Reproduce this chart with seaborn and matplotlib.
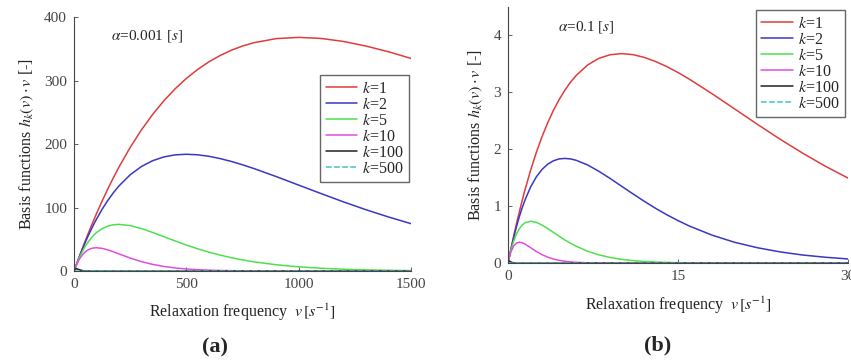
import numpy as np
import pandas as pd
import matplotlib
matplotlib.use("Agg")
import matplotlib.pyplot as plt
import seaborn as sns

# panel (a): alpha = 0.001 s
V_A = [0, 2, 5, 10, 15, 20, 30, 40, 50, 60, 75, 90, 100, 125, 150, 175, 200,
       250, 300, 350, 400, 450, 500, 550, 600, 650, 700, 750, 800, 900, 1000,
       1100, 1200, 1300, 1400, 1500]
A_K1 = [0, 2.00, 4.98, 9.90, 14.78, 19.60, 29.11, 38.43, 47.56, 56.51, 69.58,
        82.26, 90.48, 110.31, 129.11, 146.91, 163.75, 194.70, 222.25, 246.63,
        268.13, 286.93, 303.27, 317.32, 329.29, 339.33, 347.62, 354.27, 359.46,
        365.92, 367.88, 366.19, 361.43, 354.16, 345.24, 334.70]
A_K2 = [0, 1.99, 4.95, 9.80, 14.56, 19.21, 28.25, 36.92, 45.24, 53.22, 64.56,
        75.22, 81.87, 97.35, 111.12, 123.30, 134.06, 151.63, 164.64, 173.81,
        179.73, 182.95, 183.94, 183.08, 180.72, 177.12, 172.62, 167.34, 161.52,
        148.77, 135.34, 121.99, 108.86, 96.54, 85.16, 74.68]
A_K5 = [0, 1.98, 4.88, 9.51, 13.91, 18.10, 25.82, 32.75, 38.94, 44.45, 51.54,
        57.38, 60.65, 66.91, 70.85, 72.95, 73.58, 71.63, 66.94, 60.82, 54.13,
        47.42, 41.04, 35.14, 29.87, 25.20, 21.13, 17.64, 14.65, 9.99, 6.74,
        4.50, 2.97, 1.96, 1.28, 0.83]
A_K10 = [0, 1.96, 4.76, 9.05, 12.91, 16.37, 22.22, 26.81, 30.33, 32.93, 35.43,
         36.59, 36.79, 35.81, 33.47, 30.41, 27.07, 20.52, 14.94, 10.57, 7.33,
         5.00, 3.37, 2.25, 1.49, 0.98, 0.64, 0.41, 0.27, 0.11, 0.05, 0.02,
         0.01, 0, 0, 0]
A_K100 = [0, 1.64, 3.03, 3.68, 3.35, 2.71, 1.49, 0.73, 0.34, 0.15, 0.04, 0.01,
          0, 0, 0, 0, 0, 0, 0, 0, 0, 0, 0, 0, 0, 0, 0, 0, 0, 0, 0, 0, 0, 0, 0, 0]
A_K500 = [0, 0.74, 0.41, 0.07, 0.01, 0, 0, 0, 0, 0, 0, 0, 0, 0, 0, 0, 0, 0,
          0, 0, 0, 0, 0, 0, 0, 0, 0, 0, 0, 0, 0, 0, 0, 0, 0, 0]

# panel (b): alpha = 0.1 s
V_B = [0, 0.1, 0.25, 0.5, 0.75, 1, 1.25, 1.5, 2, 2.5, 3, 3.5, 4, 4.5, 5, 5.5,
       6, 7, 8, 9, 10, 11, 12, 13, 14, 15, 16, 18, 20, 22, 24, 26, 28, 30]
B_K1 = [0, 0.099, 0.244, 0.476, 0.696, 0.905, 1.103, 1.291, 1.637, 1.947,
        2.222, 2.466, 2.681, 2.869, 3.033, 3.174, 3.293, 3.476, 3.595, 3.659,
        3.679, 3.662, 3.614, 3.542, 3.452, 3.347, 3.230, 2.975, 2.707, 2.438,
        2.177, 1.931, 1.702, 1.494]
B_K2 = [0, 0.098, 0.238, 0.452, 0.646, 0.819, 0.974, 1.111, 1.341, 1.516,
        1.646, 1.738, 1.797, 1.830, 1.839, 1.831, 1.807, 1.726, 1.615, 1.488,
        1.353, 1.220, 1.089, 0.965, 0.851, 0.747, 0.652, 0.492, 0.366, 0.271,
        0.198, 0.143, 0.104, 0.074]
B_K5 = [0, 0.095, 0.221, 0.389, 0.515, 0.607, 0.669, 0.709, 0.736, 0.716,
        0.669, 0.608, 0.541, 0.474, 0.410, 0.351, 0.299, 0.211, 0.147, 0.100,
        0.067, 0.045, 0.030, 0.020, 0.013, 0.008, 0.005, 0.002, 0.001, 0, 0,
        0, 0, 0]
B_K10 = [0, 0.090, 0.195, 0.303, 0.354, 0.368, 0.358, 0.335, 0.271, 0.205,
         0.149, 0.106, 0.073, 0.050, 0.034, 0.022, 0.015, 0.006, 0.003, 0.001,
         0, 0, 0, 0, 0, 0, 0, 0, 0, 0, 0, 0, 0, 0]
B_K100 = [0, 0.037, 0.021, 0.003, 0, 0, 0, 0, 0, 0, 0, 0, 0, 0, 0, 0, 0, 0,
          0, 0, 0, 0, 0, 0, 0, 0, 0, 0, 0, 0, 0, 0, 0, 0]
B_K500 = [0, 0.001, 0, 0, 0, 0, 0, 0, 0, 0, 0, 0, 0, 0, 0, 0, 0, 0, 0, 0, 0,
          0, 0, 0, 0, 0, 0, 0, 0, 0, 0, 0, 0, 0]

K_LABELS = ["1", "2", "5", "10", "100", "500"]
COLORS = ["#e03c3c", "#3838c4", "#4ee04e", "#e04ee0", "#222222", "#40c4c4"]
STYLES = ["-", "-", "-", "-", "-", "--"]

sns.set_style("ticks")
plt.rcParams["font.family"] = ["Liberation Serif", "DejaVu Serif"]
plt.rcParams["mathtext.fontset"] = "stix"
plt.rcParams["xtick.direction"] = "in"
plt.rcParams["ytick.direction"] = "in"

fig = plt.figure(figsize=(8.51, 3.61), dpi=100)
ax_a = fig.add_axes([0.087, 0.249, 0.396, 0.704])
ax_b = fig.add_axes([0.597, 0.271, 0.3995, 0.71])

panels = [
    (ax_a, V_A, [A_K1, A_K2, A_K5, A_K10, A_K100, A_K500]),
    (ax_b, V_B, [B_K1, B_K2, B_K5, B_K10, B_K100, B_K500]),
]

for ax, v, series in panels:
    for lab, ys, c, ls in zip(K_LABELS, series, COLORS, STYLES):
        df = pd.DataFrame({"v": v, "y": ys})
        sns.lineplot(data=df, x="v", y="y", ax=ax, color=c, linestyle=ls,
                     linewidth=1.1, label=f"$k$={lab}")
    for s in ["top", "right"]:
        ax.spines[s].set_visible(False)
    for s in ["left", "bottom"]:
        ax.spines[s].set_color("#444444")
        ax.spines[s].set_linewidth(0.8)
    ax.tick_params(labelsize=11, colors="#444444", length=3, width=0.6, pad=5)
    ax.set_xlabel(r"Relaxation frequency  $v\,[s^{-1}]$", fontsize=11.5,
                  color="#222222", labelpad=8)
    ax.set_ylabel(r"Basis functions $h_k(v)\cdot v$ [-]", fontsize=11.6,
                  color="#222222", labelpad=6)

ax_a.set_xlim(0, 1500)
ax_a.set_ylim(0, 400)
ax_a.set_xticks([0, 500, 1000, 1500])
ax_a.set_yticks([0, 100, 200, 300, 400])
ax_a.text(0.11, 0.925, r"$\alpha$=0.001 [$s$]", transform=ax_a.transAxes,
          fontsize=11, va="center")
ax_a.legend(loc="upper right", bbox_to_anchor=(0.995, 0.772), borderaxespad=0,
            fontsize=11.5, handlelength=2.0, handletextpad=0.3, labelspacing=0.0,
            borderpad=0.35, fancybox=False, framealpha=1, edgecolor="#666666")

ax_b.set_xlim(0, 30)
ax_b.set_ylim(0, 4.5)
ax_b.set_xticks([0, 15, 30])
ax_b.set_yticks([0, 1, 2, 3, 4])
ax_b.text(0.147, 0.92, r"$\alpha$=0.1 [$s$]", transform=ax_b.transAxes,
          fontsize=11, va="center")
ax_b.legend(loc="upper right", bbox_to_anchor=(0.991, 0.988), borderaxespad=0,
            fontsize=11.5, handlelength=2.0, handletextpad=0.3, labelspacing=0.0,
            borderpad=0.35, fancybox=False, framealpha=1, edgecolor="#666666")

fig.text(0.253, 0.038, "(a)", ha="center", va="center", fontsize=16, fontweight="bold")
fig.text(0.773, 0.044, "(b)", ha="center", va="center", fontsize=16, fontweight="bold")

fig.savefig("out.png", dpi=100)
